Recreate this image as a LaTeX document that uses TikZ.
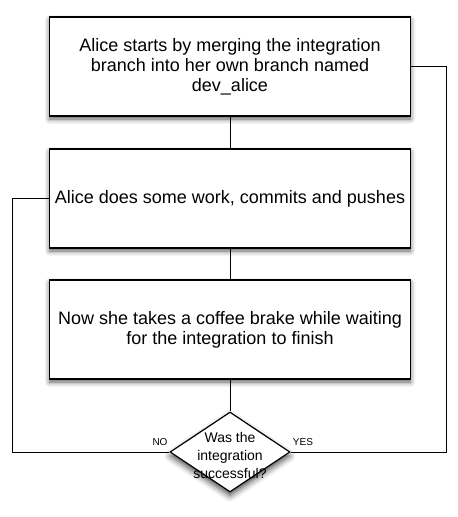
\documentclass[tikz,border=0pt]{standalone}
\usepackage{fontspec}
\setmainfont{Liberation Sans}
\usetikzlibrary{shapes.geometric,shadows.blur}
\tikzset{
  stepbox/.style={draw=black, line width=1.2pt, fill=white, minimum width=361pt, minimum height=99pt, inner sep=0pt, align=center, font=\fontsize{18}{20}\selectfont,
    blur shadow={shadow xshift=0pt, shadow yshift=-3pt, shadow blur radius=5pt, shadow opacity=65}},
  decbox/.style={draw=black, line width=1.2pt, fill=white, diamond, minimum width=120pt, minimum height=80pt, inner sep=0pt,
    blur shadow={shadow xshift=0pt, shadow yshift=-4pt, shadow blur radius=6pt, shadow opacity=70}},
  conn/.style={draw=black, line width=1pt},
  lbl/.style={font=\fontsize{10}{11}\selectfont, inner sep=0pt}
}
\begin{document}
\begin{tikzpicture}[x=1pt,y=-1pt]
\useasboundingbox (0,0) rectangle (458,517);
\node[stepbox] (b1) at (230,66.5) {Alice starts by merging the integration\\branch into her own branch named\\dev\_alice};
\node[stepbox] (b2) at (230,198.5) {Alice does some work, commits and pushes};
\node[stepbox] (b3) at (230,329.5) {Now she takes a coffee brake while waiting\\for the integration to finish};
\node[decbox] (dec) at (230,452) {};
\node[align=center, font=\fontsize{14}{18}\selectfont, inner sep=0pt] (dectext) at (230,455) {Was the\\integration\\successful?};
\coordinate (nocorner) at (12.5,452);
\coordinate (yescorner) at (446.5,452);
\draw[conn] (b1.south) -- (b2.north);
\draw[conn] (b2.south) -- (b3.north);
\draw[conn] (b3.south) -- (dec.north);
\draw[conn] (dec.west) -- (nocorner) |- (b2.west);
\draw[conn] (dec.east) -- (yescorner) |- (b1.east);
\node[lbl] (no) at (160,442) {NO};
\node[lbl] (yes) at (303,442) {YES};
\end{tikzpicture}
\end{document}
